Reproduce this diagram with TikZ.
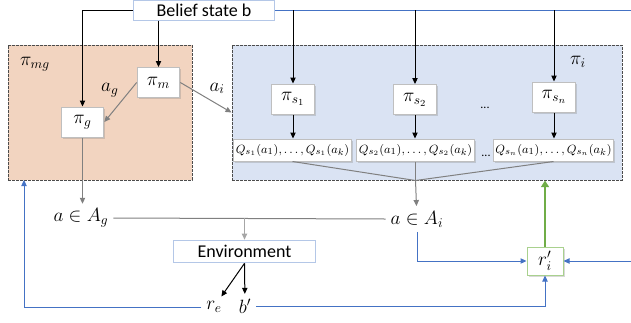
\documentclass[tikz,border=0pt]{standalone}
\usepackage{fontspec}
\setmainfont{Carlito}
\usetikzlibrary{arrows.meta,shadows}

\definecolor{mgfill}{RGB}{242,212,192}
\definecolor{ifill}{RGB}{218,227,243}
\definecolor{boxblue}{RGB}{180,199,231}
\definecolor{lineblue}{RGB}{68,114,196}
\definecolor{rgreen}{RGB}{112,173,71}
\definecolor{rgreenlight}{RGB}{169,209,142}

\begin{document}
\begin{tikzpicture}[x=0.75pt,y=-0.75pt,>={Triangle[length=4.5pt,width=4pt]},line width=0.75pt,
    every node/.style={font=\fontsize{14.5}{16}\selectfont},
    region/.style={draw=black!70,dash pattern=on 2pt off 1pt,minimum height=101.25pt},
    policy/.style={draw=black!25,fill=white,drop shadow={opacity=0.3,shadow xshift=1.2pt,shadow yshift=-1.2pt},
      minimum width=32pt,minimum height=22.5pt,inner sep=1pt},
    qvalues/.style={policy,font=\fontsize{9.5}{11}\selectfont,minimum height=16.5pt,inner sep=1.5pt},
    textbox/.style={draw=boxblue,fill=white,font=\fontsize{13.5}{16}\selectfont,
      minimum width=106pt,minimum height=15pt,inner sep=1pt},
    dots/.style={font=\fontsize{9}{10}\selectfont},
    feedback/.style={->,draw=lineblue}]
  \useasboundingbox (0,0) rectangle (631,322);
  % the two policy groups
  \node[region,fill=mgfill,minimum width=138pt] (mg) at (100,112.5) {};
  \node[region,fill=ifill,minimum width=292.5pt] (pii) at (427,112.5) {};
  \node (mglabel) at (35,64) {$\pi_{mg}$};
  \node (ilabel) at (578,62) {$\pi_i$};

  \node[textbox] (belief) at (204,10) {Belief state b};
  \node[policy] (pim) at (158.5,82.5) {$\pi_m$};
  \node[policy] (pig) at (82.5,122) {$\pi_g$};
  \node[policy] (pis1) at (293,99) {$\pi_{s_1}$};
  \node[policy] (pis2) at (415,99.5) {$\pi_{s_2}$};
  \node[policy] (pisn) at (554,97) {$\pi_{s_n}$};
  \node[dots] (dots1) at (485,108) {...};
  \node[qvalues,minimum width=83pt] (q1) at (292.5,150) {$Q_{s_1}(a_1),\ldots,Q_{s_1}(a_k)$};
  \node[qvalues,minimum width=84pt] (q2) at (415.5,150) {$Q_{s_2}(a_1),\ldots,Q_{s_2}(a_k)$};
  \node[qvalues,minimum width=83pt] (qn) at (553.5,150) {$Q_{s_n}(a_1),\ldots,Q_{s_n}(a_k)$};
  \node[dots] (dots2) at (486,156) {...};

  \node (aag) at (81,218) {$a\in A_g$};
  \node (aai) at (417,219) {$a\in A_i$};
  \node[textbox,minimum height=17pt] (env) at (244.5,251.5) {Environment};
  \node[policy,draw=rgreenlight,minimum width=27pt,minimum height=21pt] (ri) at (545,261) {$r_i'$};
  \node (re) at (214,307) {$r_e$};
  \node (bp) at (245,306) {$b'$};
  \coordinate (topright) at (631,10);
  \coordinate (merge) at (pii.south -| q2);
  \coordinate (mgin) at (24,180);
  \coordinate (riright) at (631,261);

  % belief state to the policies
  \draw[->] (belief.west) -| (pig);
  \draw[->] (belief.south -| pim) -- (pim);
  \draw[lineblue] (belief.east) -- (topright);
  \foreach \s/\q in {pis1/q1,pis2/q2,pisn/qn} {
    \draw[->] (\s |- topright) -- (\s.north);
    \draw[->] (\s.south) -- (\s.south |- \q.north);
    \draw[gray] (\q.south) -- (merge);
  }
  \draw[->,gray] (pim.west) -- (pig.east) node[pos=0.45,above left=-1pt,text=black] {$a_g$};
  \draw[->,gray] (pim.east) -- (pii.west) node[midway,above right=-1pt,text=black] {$a_i$};
  \draw[->,gray] (merge) -- (aai);
  \draw[->,gray] (pig) -- (pig |- aag.north);
  \draw[gray] (aag.east) -- (aai.west);
  \draw[->,gray!70] (env.north |- aag.east) -- (env);
  \draw[->] (env.south) -- (re);
  \draw[->] (env.south) -- (bp);
  % reward feedback
  \draw[feedback] (re.west) -| (mgin);
  \draw[feedback] (bp.east) -| (ri);
  \draw[feedback] (aai.south) |- (ri);
  \draw[feedback] (riright) -- (ri);
  \draw[-{Triangle[length=5pt,width=6pt]},rgreen,line width=2.2pt] (ri) -- (ri |- pii.south);
\end{tikzpicture}
\end{document}
